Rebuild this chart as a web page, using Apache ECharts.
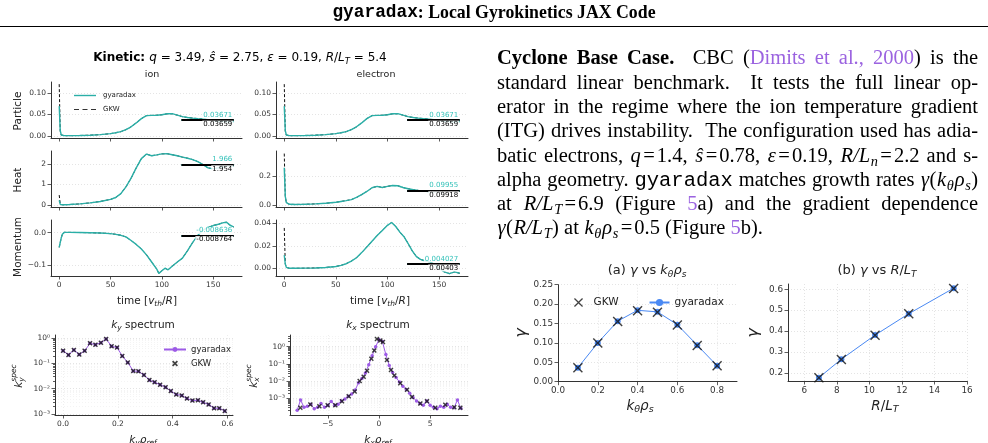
<!DOCTYPE html>
<html><head><meta charset="utf-8">
<script src="https://cdn.jsdelivr.net/npm/echarts@6/dist/echarts.min.js"></script>
<style>html,body{margin:0;padding:0;background:#fff}#c{width:988px;height:443px}</style>
</head><body><div id="c"></div>
<script>
// ================= DATA =================
// Kinetic time traces (time in v_th/R)
const tPart = [0,1,2,3,5,10,20,30,40,50,55,60,65,70,75,80,85,90,95,100,105,110,115,120,125,130,135,140,145,150,155,160,165,170];
const partGy  = [0.069,0.012,0.002,0.0008,0.0005,0.0004,0.0008,0.0015,0.0028,0.0052,0.0072,0.0098,0.0145,0.021,0.030,0.040,0.047,0.0475,0.0478,0.049,0.0512,0.0515,0.048,0.0445,0.0425,0.0412,0.040,0.039,0.0375,0.0355,0.034,0.033,0.032,0.033];
const partGKW = [0.120,0.011,0.002,0.0008,0.0005,0.0004,0.0008,0.0015,0.0028,0.0051,0.0071,0.0097,0.0144,0.021,0.030,0.040,0.047,0.0474,0.0478,0.049,0.0511,0.0514,0.048,0.0444,0.0424,0.0411,0.040,0.039,0.0374,0.0354,0.034,0.033,0.032,0.033];
const tHeatIon = tPart;
const heatIonGy  = [0.22,0.03,0.012,0.01,0.01,0.02,0.05,0.10,0.17,0.27,0.36,0.55,0.88,1.30,1.80,2.25,2.47,2.39,2.43,2.48,2.49,2.44,2.39,2.32,2.27,2.20,2.10,1.96,1.80,1.75,1.80,1.85,1.90,1.90];
const heatIonGKW = [0.48,0.03,0.012,0.01,0.01,0.02,0.05,0.10,0.17,0.27,0.36,0.55,0.88,1.30,1.80,2.25,2.47,2.39,2.43,2.48,2.49,2.44,2.39,2.32,2.27,2.20,2.10,1.96,1.80,1.75,1.80,1.85,1.90,1.90];
const tMomIon = [0,1,2,3,5,10,20,30,40,50,55,60,65,70,75,80,85,90,95,97,100,103,106,110,115,120,125,130,135,140,145,150,155,160,163,166,170];
const momIonGy  = [-0.045,-0.03,-0.016,-0.005,0.001,0.001,0.0005,0.0,-0.001,-0.003,-0.005,-0.008,-0.013,-0.024,-0.036,-0.05,-0.068,-0.09,-0.112,-0.125,-0.117,-0.109,-0.114,-0.103,-0.09,-0.078,-0.055,-0.03,-0.008,0.008,0.016,0.022,0.026,0.031,0.032,0.024,0.017];
const momIonGKW = [-0.045,-0.03,-0.016,-0.005,0.001,0.001,0.0005,0.0,-0.001,-0.003,-0.005,-0.008,-0.013,-0.024,-0.036,-0.05,-0.068,-0.09,-0.112,-0.125,-0.117,-0.109,-0.114,-0.103,-0.09,-0.078,-0.055,-0.03,-0.008,0.008,0.016,0.022,0.026,0.031,0.032,0.024,0.017];
const tHeatEl = tPart;
const heatElGy  = [0.26,0.06,0.015,0.006,0.004,0.003,0.004,0.007,0.011,0.018,0.024,0.030,0.037,0.052,0.072,0.094,0.12,0.13,0.122,0.13,0.136,0.134,0.122,0.113,0.106,0.101,0.097,0.094,0.092,0.093,0.095,0.098,0.100,0.099];
const heatElGKW = [0.36,0.06,0.015,0.006,0.004,0.003,0.004,0.007,0.011,0.018,0.024,0.030,0.037,0.052,0.072,0.094,0.12,0.13,0.122,0.13,0.136,0.134,0.122,0.113,0.106,0.101,0.097,0.094,0.092,0.093,0.095,0.098,0.100,0.099];
const tMomEl = [0,1,2,3,5,10,20,30,40,50,55,60,65,70,75,80,85,90,95,100,104,108,112,116,120,124,128,132,136,140,145,150,155,160,165,170];
const momElGy  = [0.0118,0.004,0.001,0.0003,0.0002,0.0002,0.0003,0.0005,0.0009,0.0018,0.0028,0.0042,0.0065,0.0095,0.014,0.019,0.024,0.029,0.0335,0.038,0.0405,0.037,0.032,0.028,0.022,0.0155,0.0105,0.008,0.0068,0.006,0.004,0.0,-0.003,-0.0045,-0.003,-0.0042];
const momElGKW = [0.0357,0.004,0.001,0.0003,0.0002,0.0002,0.0003,0.0005,0.0009,0.0018,0.0028,0.0042,0.0065,0.0095,0.014,0.019,0.024,0.029,0.0335,0.038,0.0405,0.037,0.032,0.028,0.022,0.0155,0.0105,0.008,0.0068,0.006,0.004,0.0,-0.003,-0.0045,-0.003,-0.0042];
// time-averaged values (ion particle, ion heat, ion momentum, electron particle, electron heat, electron momentum)
const avgGyaradax = [0.03671, 1.966, -0.008636, 0.03671, 0.09955, 0.004027];
const avgGKW      = [0.03659, 1.954, -0.008764, 0.03659, 0.09918, 0.00403];
const avgWindow = [119, 170];

// spectra
const kyVals = [0,0.0197,0.0393,0.059,0.0787,0.0983,0.118,0.138,0.157,0.177,0.197,0.216,0.236,0.256,0.275,0.295,0.315,0.334,0.354,0.374,0.393,0.413,0.433,0.452,0.472,0.492,0.511,0.531,0.551,0.570,0.590];
const kySpecGy  = [0.32,0.22,0.34,0.23,0.32,0.63,0.56,0.67,0.94,0.48,0.43,0.20,0.11,0.051,0.049,0.035,0.022,0.018,0.0145,0.0115,0.0081,0.0059,0.0054,0.0041,0.0034,0.0035,0.0029,0.0024,0.0017,0.0017,0.0013];
const kySpecGKW = [0.32,0.22,0.34,0.23,0.32,0.63,0.56,0.67,0.94,0.48,0.43,0.20,0.11,0.051,0.049,0.035,0.022,0.018,0.0145,0.0115,0.0081,0.0059,0.0054,0.0041,0.0034,0.0035,0.0029,0.0024,0.0017,0.0017,0.0013];
const kxVals = [-8.00,-7.67,-7.33,-7.00,-6.67,-6.33,-6.00,-5.67,-5.33,-5.00,-4.67,-4.33,-4.00,-3.67,-3.33,-3.00,-2.67,-2.33,-2.00,-1.67,-1.33,-1.00,-0.67,-0.33,0.00,0.33,0.67,1.00,1.33,1.67,2.00,2.33,2.67,3.00,3.33,3.67,4.00,4.33,4.67,5.00,5.33,5.67,6.00,6.33,6.67,7.00,7.33,7.67,8.00];
const kxSpecGy = [2.0e-4,8.0e-4,3.0e-4,3.5e-4,4.5e-4,2.5e-4,3.0e-4,5.0e-4,3.0e-4,4.0e-4,6.5e-4,4.0e-4,4.5e-4,7.0e-4,9.0e-4,1.3e-3,1.8e-3,3.0e-3,8.0e-3,1.4e-2,3.0e-2,9.0e-2,0.30,1.0,2.6,2.0,0.35,0.08,0.032,0.016,9.0e-3,5.0e-3,3.2e-3,2.0e-3,1.1e-3,7.0e-4,5.0e-4,4.0e-4,7.0e-4,4.0e-4,3.0e-4,2.5e-4,3.5e-4,3.0e-4,4.5e-4,3.0e-4,2.8e-4,8.0e-4,2.6e-4];
const kxGKW = [-7.69,-6.71,-5.83,-5.02,-4.27,-3.62,-2.96,-2.38,-1.89,-1.50,-1.17,-0.75,-0.46,-0.20,0.13,0.39,0.78,1.17,1.50,2.08,2.74,3.22,4.04,4.69,5.50,6.48,7.36,7.95];
const kxSpecGKW = [2.8e-4,4.3e-4,3.4e-4,4.0e-4,4.0e-4,6.7e-4,1.3e-3,2.5e-3,0.01,0.018,0.04,0.2,0.6,2.8,2.3,1.9,0.17,0.045,0.021,0.0075,0.0031,0.0012,5.0e-4,6.8e-4,2.8e-4,4.2e-4,3.0e-4,2.8e-4];

// Cyclone base case
const kthetaRho = [0.1,0.2,0.3,0.4,0.5,0.6,0.7,0.8];
const gammaKyGy  = [0.036,0.100,0.156,0.184,0.180,0.147,0.094,0.041];
const gammaKyGKW = [0.036,0.100,0.155,0.183,0.179,0.146,0.093,0.041];
const rOverLT = [6.9,8.28,10.35,12.42,15.18];
const gammaRLTGy  = [0.178,0.266,0.381,0.483,0.605];
const gammaRLTGKW = [0.178,0.265,0.380,0.483,0.604];

// tick values
const timeTicks = [0,50,100,150];
const partTicks = [0,0.05,0.10];
const heatIonTicks = [0,1,2];
const momIonTicks = [-0.1,0.0];
const heatElTicks = [0.0,0.2];
const momElTicks = [0.00,0.02,0.04];
const kyTicks = [0.0,0.2,0.4,0.6];
const kxTicks = [-5,0,5];
const logTicks = [1e-3,1e-2,1e-1,1];
const aXTicks = [0.0,0.2,0.4,0.6,0.8];
const aYTicks = [0.00,0.05,0.10,0.15,0.20,0.25];
const bXTicks = [6,8,10,12,14,16];
const bYTicks = [0.2,0.3,0.4,0.5,0.6];

// ================= STYLE / HELPERS =================
const TEAL = '#2aafa7', TEAL_TXT = '#35c2ba', PURPLE = '#9d5be6', BLUE = '#4a89f3', LINK = '#9b63e0';
const AX = '#333';
const DV = '"DejaVu Sans"', SER = '"Liberation Serif"', MONO = '"Liberation Mono"';
const P = 20.5, H = 17.8;
const F = (fam, size, o) => Object.assign({fam, size}, o || {});
const S = {
  pR: F(SER,P), pB: F(SER,P,{b:1}), pI: F(SER,P,{i:1,pad:0.5}), pM: F(MONO,P), pP: F(SER,P,{c:LINK}),
  pE: F(SER,P,{pad:2}), pS: F(SER,P*0.7,{i:1,dy:P*0.27,pad:0.3}),
  hM: F(MONO,H,{b:1}), hB: F(SER,H,{b:1}),
  tB: F(DV,12,{b:1}), tR: F(DV,12), tI: F(DV,12,{i:1}), tS: F(DV,8.5,{i:1,dy:3.5}),
  st: F(DV,9.5,{c:'#222'}), yl: F(DV,10.5,{c:'#222'}),
  xR: F(DV,10.5,{c:'#222'}), xI: F(DV,10.5,{i:1,c:'#222'}), xS: F(DV,7.5,{i:1,c:'#222',dy:3}), xSup: F(DV,7.5,{i:1,c:'#222',dy:-4.5}),
  aR: F(DV,13,{c:'#222'}), aI: F(DV,13,{i:1,c:'#222'}), aS: F(DV,9,{i:1,c:'#222',dy:3.8}),
  lR: F(DV,13.5,{c:'#222'}), lI: F(DV,13.5,{i:1,c:'#222'}), lS: F(DV,9.5,{i:1,c:'#222',dy:4}),
  gI: F(DV,16,{i:1,c:'#222'})
};
const mctx = document.createElement('canvas').getContext('2d');
function fontOf(s){ return (s.i?'italic ':'') + (s.b?'bold ':'') + s.size + 'px ' + s.fam; }
function tw(t, s){ mctx.font = fontOf(s); return mctx.measureText(t).width; }
function txt(t, s, x, y){
  return {type:'text', x, y, silent:true, style:{text:t, font:fontOf(s), fill:s.c||'#000', textAlign:'left', textVerticalAlign:'middle'}};
}
function runsGroup(runs, x, y, align, rot){
  const kids = []; let cx = 0; let hold = null;
  runs.forEach(r => {
    const [t, k, stack] = r; const s = S[k]; const w = tw(t, s);
    const sx = hold ? hold.x : cx;
    kids.push(txt(t, s, sx, s.dy||0));
    if (stack) hold = {x:sx, w};
    else if (hold) { cx = sx + Math.max(hold.w, w); hold = null; }
    else cx = sx + w;
  });
  const off = align==='center' ? -cx/2 : (align==='right' ? -cx : 0);
  kids.forEach(k => { k.x += off; });
  return {type:'group', x, y, rotation: rot||0, silent:true, children:kids};
}
function paraLine(runs, x0, x1, y, justify){
  const items = [];
  runs.forEach(([t,k]) => { t.split(' ').forEach((p,i) => { if (i>0) items.push({sp:true,k}); if (p) items.push({t:p,k}); }); });
  let nat = 0, nsp = 0;
  items.forEach(it => { const s = S[it.k]; if (it.sp) { nat += tw(' ', s); nsp++; } else nat += tw(it.t, s) + 2*(s.pad||0); });
  const extra = (justify && nsp) ? (x1 - x0 - nat) / nsp : 0;
  let cx = x0; const kids = [];
  items.forEach(it => { const s = S[it.k]; if (it.sp) cx += tw(' ', s) + extra; else { cx += (s.pad||0); kids.push(txt(it.t, s, cx, y + (s.dy||0))); cx += tw(it.t, s) + (s.pad||0); } });
  return kids;
}
const dec = d => v => v.toFixed(d).replace('-', '\u2212');
const SUP = {'0':'\u2070','1':'\u00b9','2':'\u00b2','3':'\u00b3','4':'\u2074','-':'\u207b'};
const pow10 = v => '10' + String(Math.round(Math.log10(v))).split('').map(c => SUP[c]).join('');
const XSYM = 'path://M0,1L1,0L5,4L9,0L10,1L6,5L10,9L9,10L5,6L1,10L0,9L4,5Z';
const XSYM_B = 'path://M0,2L2,0L5,3L8,0L10,2L7,5L10,8L8,10L5,7L2,10L0,8L3,5Z';
const LINE_ICON = 'path://M0,0L22,0L22,1.4L0,1.4Z';
const DASH_ICON = 'path://M0,0h5v1.2h-5zM8.5,0h5v1.2h-5zM17,0h5v1.2h-5z';

function axis(gi, min, max, ticks, fmt, o){
  o = o || {};
  return {
    type: o.log ? 'log' : 'value', logBase: 10, gridIndex: gi, min, max, position: o.pos, offset: 0,
    axisLine: {show: o.line !== false, onZero: false, lineStyle: {color: AX, width: 1}},
    axisTick: {show: true, inside: false, length: o.tl || 3.5, customValues: ticks, lineStyle: {color: AX, width: 0.8}},
    axisLabel: {show: !!fmt, customValues: ticks, formatter: fmt, fontSize: o.fs || 7.5, fontFamily: 'DejaVu Sans', color: '#333', margin: o.m || 5},
    splitLine: {show: !!o.grid, lineStyle: {color: o.gc || '#d9d9d9', width: 0.7, type: [1, 2]}},
    minorTick: {show: false}, minorSplitLine: {show: false}
  };
}
const pairs = (xs, ys) => xs.map((x, i) => [x, ys[i]]);
const minorOf = (lo, hi) => { const out = []; for (let e = -5; e <= 1; e++) for (let m = 2; m <= 9; m++) { const v = m * Math.pow(10, e); if (v > lo && v < hi) out.push(+v.toPrecision(2)); } return out; };

// ================= LAYOUT =================
const grids = [
  {left:51, top:82, width:191, height:56},
  {left:51, top:151, width:191, height:56},
  {left:51, top:220, width:191, height:56},
  {left:276, top:82, width:192, height:56},
  {left:276, top:151, width:192, height:56},
  {left:276, top:220, width:192, height:56},
  {left:55, top:335, width:178, height:80},
  {left:290, top:335, width:178, height:80},
  {left:558, top:284.7, width:179, height:97},
  {left:788, top:284, width:179, height:97}
].map(g => Object.assign(g, {outerBoundsMode:'none', containLabel:false}));

const panels = [
  {g:0, t:tPart,    gy:partGy,    gk:partGKW,    yr:[-0.005,0.125],  ticks:partTicks,    d:2, lab:false},
  {g:1, t:tHeatIon, gy:heatIonGy, gk:heatIonGKW, yr:[-0.1,2.62],     ticks:heatIonTicks, d:0, lab:false},
  {g:2, t:tMomIon,  gy:momIonGy,  gk:momIonGKW,  yr:[-0.133,0.039],  ticks:momIonTicks,  d:1, lab:true},
  {g:3, t:tPart,    gy:partGy,    gk:partGKW,    yr:[-0.005,0.125],  ticks:partTicks,    d:2, lab:false},
  {g:4, t:tHeatEl,  gy:heatElGy,  gk:heatElGKW,  yr:[-0.015,0.378],  ticks:heatElTicks,  d:1, lab:false},
  {g:5, t:tMomEl,   gy:momElGy,   gk:momElGKW,   yr:[-0.0066,0.0427],ticks:momElTicks,   d:2, lab:true}
];

const xAxes = [], yAxes = [], series = [];
panels.forEach((p, i) => {
  xAxes.push(axis(p.g, -8, 178, timeTicks, p.lab ? dec(0) : null));
  yAxes.push(axis(p.g, p.yr[0], p.yr[1], p.ticks, dec(p.d), {grid:true}));
  const aG = avgGyaradax[i], aK = avgGKW[i];
  series.push({
    type:'line', name:'GKW', xAxisIndex:i, yAxisIndex:i, data:pairs(p.t, p.gk), symbol:'none', z:2,
    lineStyle:{color:'#111', width:1, type:[3,2]}, itemStyle:{color:'#111'}, silent:true,
    markLine:{silent:true, symbol:['none','none'], label:{show:false}, lineStyle:{color:TEAL, width:2, type:'solid'},
      data:[[{coord:[avgWindow[0], aG]}, {coord:[avgWindow[1], aG]}]]}
  });
  series.push({
    type:'line', name:'gyaradax', xAxisIndex:i, yAxisIndex:i, data:pairs(p.t, p.gy), symbol:'none', z:3,
    lineStyle:{color:TEAL, width:1.4}, itemStyle:{color:TEAL}, silent:true,
    markLine:{silent:true, symbol:['none','none'], label:{show:false}, lineStyle:{color:'#000', width:2, type:'solid'},
      data:[[{coord:[avgWindow[0], aK]}, {coord:[avgWindow[1], aK]}]]},
    markPoint:{silent:true, symbol:'rect', symbolSize:1, itemStyle:{color:'rgba(0,0,0,0)'},
      label:{show:true, position:'left', distance:0, fontSize:7, fontFamily:'DejaVu Sans', backgroundColor:'rgba(255,255,255,0.85)', padding:[0,1,0,1]},
      data:[
        {coord:[avgWindow[1], aG], label:{formatter:String(aG), color:TEAL_TXT, offset:[0,-5]}},
        {coord:[avgWindow[1], aK], label:{formatter:String(aK), color:'#000', offset:[0,4]}}
      ]}
  });
});

// spectra axes (indices 6, 7)
xAxes.push(axis(6, -0.0295, 0.62, kyTicks, dec(1), {grid:true, gc:'#e6e6e6'}));
xAxes.push(axis(7, -8.7, 8.7, kxTicks, dec(0), {grid:true, gc:'#e6e6e6'}));
yAxes.push(axis(6, 9.1e-4, 1.35, logTicks, pow10, {log:true, grid:true}));
yAxes.push(axis(7, 1.07e-4, 4.8, logTicks, pow10, {log:true, grid:true}));
// (a), (b) axes (indices 8, 9)
xAxes.push(axis(8, 0, 0.9, aXTicks, dec(1), {grid:true, fs:8.8}));
xAxes.push(axis(9, 5, 16, bXTicks, dec(0), {grid:true, fs:8.8}));
yAxes.push(axis(8, 0, 0.25, aYTicks, dec(2), {grid:true, fs:8.8}));
yAxes.push(axis(9, 0.162, 0.625, bYTicks, dec(1), {grid:true, fs:8.8}));
// minor log ticks (indices 10, 11)
yAxes.push(axis(6, 9.1e-4, 1.35, minorOf(9.1e-4, 1.35), null, {log:true, grid:true, gc:'#efefef', tl:2, line:false, pos:'left'}));
yAxes.push(axis(7, 1.07e-4, 4.8, minorOf(1.07e-4, 4.8), null, {log:true, grid:true, gc:'#efefef', tl:2, line:false, pos:'left'}));

const ZW = '\u200b';
series.push(
  {type:'line', name:'gyaradax'+ZW, xAxisIndex:6, yAxisIndex:6, data:pairs(kyVals, kySpecGy), symbol:'circle', symbolSize:3.5, showSymbol:true,
   lineStyle:{color:PURPLE, width:1}, itemStyle:{color:PURPLE}, silent:true, z:3},
  {type:'scatter', name:'GKW'+ZW, xAxisIndex:6, yAxisIndex:6, data:pairs(kyVals, kySpecGKW), symbol:XSYM_B, symbolSize:5,
   itemStyle:{color:'#111'}, silent:true, z:4},
  {type:'line', name:'gyaradax'+ZW, xAxisIndex:7, yAxisIndex:7, data:pairs(kxVals, kxSpecGy), symbol:'circle', symbolSize:3.5, showSymbol:true,
   lineStyle:{color:PURPLE, width:1}, itemStyle:{color:PURPLE}, silent:true, z:3},
  {type:'scatter', name:'GKW'+ZW, xAxisIndex:7, yAxisIndex:7, data:pairs(kxGKW, kxSpecGKW), symbol:XSYM_B, symbolSize:5,
   itemStyle:{color:'#111'}, silent:true, z:4},
  {type:'line', name:'gyaradax'+ZW+ZW, xAxisIndex:8, yAxisIndex:8, data:pairs(kthetaRho, gammaKyGy), symbol:'circle', symbolSize:6, showSymbol:true,
   lineStyle:{color:BLUE, width:1}, itemStyle:{color:BLUE}, silent:true, z:3},
  {type:'scatter', name:'GKW'+ZW+ZW, xAxisIndex:8, yAxisIndex:8, data:pairs(kthetaRho, gammaKyGKW), symbol:XSYM, symbolSize:10,
   itemStyle:{color:'#111'}, silent:true, z:4},
  {type:'line', name:'gyaradax'+ZW+ZW, xAxisIndex:9, yAxisIndex:9, data:pairs(rOverLT, gammaRLTGy), symbol:'circle', symbolSize:6, showSymbol:true,
   lineStyle:{color:BLUE, width:1}, itemStyle:{color:BLUE}, silent:true, z:3},
  {type:'scatter', name:'GKW'+ZW+ZW, xAxisIndex:9, yAxisIndex:9, data:pairs(rOverLT, gammaRLTGKW), symbol:XSYM, symbolSize:10,
   itemStyle:{color:'#111'}, silent:true, z:4}
);

const strip = n => n.replace(/\u200b/g, '');
const legends = [
  {data:[{name:'gyaradax', icon:LINE_ICON, itemStyle:{color:TEAL}}, {name:'GKW', icon:DASH_ICON, itemStyle:{color:'#333'}}],
   orient:'vertical', left:69, top:87, itemWidth:22, itemHeight:1.5, itemGap:7,
   textStyle:{fontSize:7, fontFamily:'DejaVu Sans', color:'#222', padding:[0,0,0,2]}, formatter:strip, selectedMode:false},
  {data:['gyaradax'+ZW,'GKW'+ZW], orient:'vertical', left:158, top:340, itemWidth:22, itemHeight:6, itemGap:5,
   textStyle:{fontSize:8.5, fontFamily:'DejaVu Sans', color:'#222'}, formatter:strip, selectedMode:false},
  {data:['GKW'+ZW+ZW,'gyaradax'+ZW+ZW], orient:'horizontal', left:569, top:292, itemWidth:20, itemHeight:9, itemGap:30,
   textStyle:{fontSize:10.5, fontFamily:'DejaVu Sans', color:'#222'}, formatter:strip, selectedMode:false}
];

// ================= TEXT =================
const graphics = [];
graphics.push(runsGroup([['gyaradax','hM'],[': Local Gyrokinetics JAX Code','hB']], 494, 13, 'center'));
graphics.push({type:'line', silent:true, shape:{x1:0, y1:26.5, x2:988, y2:26.5}, style:{stroke:'#000', lineWidth:1}});

const paraLines = [
  [['Cyclone Base Case.','pB'],['  CBC (','pR'],['Dimits et al., 2000','pP'],[') is the','pR']],
  [['standard linear benchmark.  It tests the full linear op-','pR']],
  [['erator in the regime where the ion temperature gradient','pR']],
  [['(ITG) drives instability.  The configuration used has adia-','pR']],
  [['batic electrons, ','pR'],['q','pI'],['=','pE'],['1.4, ','pR'],['\u015d','pI'],['=','pE'],['0.78, ','pR'],['\u03b5','pI'],['=','pE'],['0.19, ','pR'],['R/L','pI'],['n','pS'],['=','pE'],['2.2 and s-','pR']],
  [['alpha geometry. ','pR'],['gyaradax','pM'],[' matches growth rates ','pR'],['\u03b3','pI'],['(','pR'],['k','pI'],['\u03b8','pS'],['\u03c1','pI'],['s','pS'],[')','pR']],
  [['at ','pR'],['R/L','pI'],['T','pS'],['=','pE'],['6.9 (Figure ','pR'],['5','pP'],['a) and the gradient dependence','pR']],
  [['\u03b3','pI'],['(','pR'],['R/L','pI'],['T','pS'],[') at ','pR'],['k','pI'],['\u03b8','pS'],['\u03c1','pI'],['s','pS'],['=','pE'],['0.5 (Figure ','pR'],['5','pP'],['b).','pR']]
];
const paraX0 = 497, paraX1 = 978, paraY0 = 59, paraDY = 24.3;
paraLines.forEach((ln, i) => {
  graphics.push({type:'group', silent:true, children: paraLine(ln, paraX0, paraX1, paraY0 + i*paraDY, i < paraLines.length - 1)});
});

// left figure texts
graphics.push(runsGroup([['Kinetic: ','tB'],['q','tI'],[' = 3.49, ','tR'],['\u015d','tI'],[' = 2.75, ','tR'],['\u03b5','tI'],[' = 0.19, ','tR'],['R','tI'],['/','tR'],['L','tI'],['T','tS'],[' = 5.4','tR']], 240, 58, 'center'));
graphics.push(runsGroup([['ion','st']], 152, 75, 'center'));
graphics.push(runsGroup([['electron','st']], 376, 75, 'center'));
graphics.push(runsGroup([['Particle','yl']], 18, 111, 'center', Math.PI/2));
graphics.push(runsGroup([['Heat','yl']], 18, 180, 'center', Math.PI/2));
graphics.push(runsGroup([['Momentum','yl']], 18, 247, 'center', Math.PI/2));
const timeLab = [['time [','xR'],['v','xI'],['th','xS'],['/','xR'],['R','xI'],[']','xR']];
graphics.push(runsGroup(timeLab, 147, 301, 'center'));
graphics.push(runsGroup(timeLab, 380, 301, 'center'));
// spectra texts
graphics.push(runsGroup([['k','xI'],['y','xS'],[' spectrum','xR']], 143, 325, 'center'));
graphics.push(runsGroup([['k','xI'],['x','xS'],[' spectrum','xR']], 378, 325, 'center'));
graphics.push(runsGroup([['k','xI'],['y','xS'],['\u03c1','xI'],['ref','xS']], 143, 440, 'center'));
graphics.push(runsGroup([['k','xI'],['x','xS'],['\u03c1','xI'],['ref','xS']], 378, 440, 'center'));
graphics.push(runsGroup([['k','xI'],['y','xS',true],['spec','xSup']], 19, 376, 'center', Math.PI/2));
graphics.push(runsGroup([['k','xI'],['x','xS',true],['spec','xSup']], 254, 376, 'center', Math.PI/2));
// (a), (b) texts
graphics.push(runsGroup([['(a) ','aR'],['\u03b3','aI'],[' vs ','aR'],['k','aI'],['\u03b8','aS'],['\u03c1','aI'],['s','aS']], 647, 271, 'center'));
graphics.push(runsGroup([['(b) ','aR'],['\u03b3','aI'],[' vs ','aR'],['R','aI'],['/','aR'],['L','aI'],['T','aS']], 877, 271, 'center'));
graphics.push(runsGroup([['k','lI'],['\u03b8','lS'],['\u03c1','lI'],['s','lS']], 640, 406, 'center'));
graphics.push(runsGroup([['R','lI'],['/','lR'],['L','lI'],['T','lS']], 885, 406, 'center'));
graphics.push(runsGroup([['\u03b3','gI']], 522, 333, 'center', Math.PI/2));
graphics.push(runsGroup([['\u03b3','gI']], 754, 333, 'center', Math.PI/2));

const chart = echarts.init(document.getElementById('c'), null, {renderer:'canvas'});
chart.setOption({
  animation:false, backgroundColor:'#fff',
  grid:grids, xAxis:xAxes, yAxis:yAxes, series, legend:legends,
  graphic:{elements:graphics}
});
</script></body></html>
